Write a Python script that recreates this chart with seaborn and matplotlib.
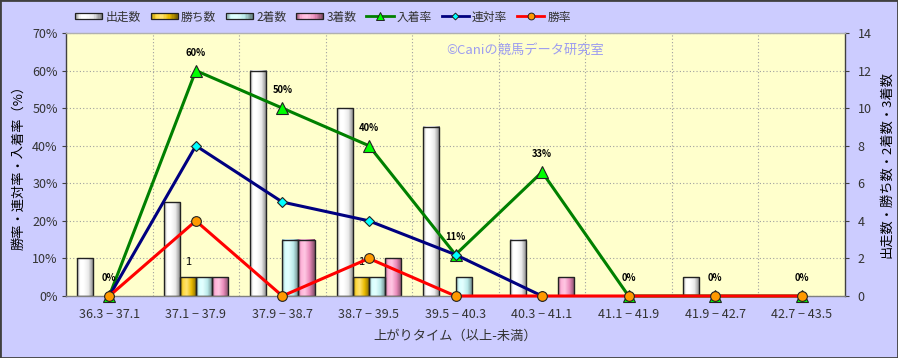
import numpy as np
import pandas as pd
import matplotlib
matplotlib.use("Agg")
import matplotlib.pyplot as plt
import seaborn as sns
from matplotlib.legend_handler import HandlerBase
from matplotlib.patches import Rectangle
from matplotlib.lines import Line2D
from matplotlib.colors import to_rgb

# ---------------- data ----------------
categories = ["36.3 − 37.1", "37.1 − 37.9", "37.9 − 38.7", "38.7 − 39.5", "39.5 − 40.3",
              "40.3 − 41.1", "41.1 − 41.9", "41.9 − 42.7", "42.7 − 43.5"]
runs = [2, 5, 12, 10, 9, 3, 0, 1, 0]          # 出走数
wins = [0, 1, 0, 1, 0, 0, 0, 0, 0]            # 勝ち数
seconds = [0, 1, 3, 1, 1, 0, 0, 0, 0]         # 2着数
thirds = [0, 1, 3, 2, 0, 1, 0, 0, 0]          # 3着数
place_rate = [0, 60, 50, 40, 11, 33, 0, 0, 0]                        # 入着率
quinella_rate = [0, 40, 25, 20, 11, 0, np.nan, np.nan, np.nan]       # 連対率
win_rate = [0, 20, 0, 10, 0, 0, 0, 0, 0]                             # 勝率
place_labels = ["0%", "60%", "50%", "40%", "11%", "33%", "0%", "0%", "0%"]
win_labels = ["", "1", "", "1", "", "", "", "", ""]

bar_names = ["出走数", "勝ち数", "2着数", "3着数"]
bar_colors = ["#FFFFFF", "#FFCC00", "#CCFFFF", "#FF99CC"]
line_names = ["入着率", "連対率", "勝率"]

plt.rcParams["font.family"] = ["Noto Sans CJK JP", "DejaVu Sans"]
plt.rcParams["axes.unicode_minus"] = False

FIG_BG = "#CCCCFF"
AX_BG = "#FFFFCC"
TXT = "#333333"


def grad_colors(base, n):
    b = np.array(to_rgb(base))
    left = b * 0.66
    light = b + (1 - b) * 0.45
    mid = b * 0.92
    right = b * 0.5
    t = np.linspace(0, 1, n)
    keys_t = [0.0, 0.18, 0.4, 0.68, 1.0]
    keys = [left, b + (1 - b) * 0.25, light, mid, right]
    cols = np.stack([np.interp(t, keys_t, [k[c] for k in keys]) for c in range(3)], axis=1)
    return np.clip(cols, 0, 1)


fig = plt.figure(figsize=(8.98, 3.58), dpi=100, facecolor=FIG_BG)
L, R, T, B = 66, 845, 33, 296
ax1 = fig.add_axes([L / 898, 1 - B / 358, (R - L) / 898, (B - T) / 358])
ax2 = ax1.twinx()
ax1.set_zorder(2)
ax2.set_zorder(1)
ax1.patch.set_visible(False)
ax2.patch.set_visible(True)
ax2.patch.set_facecolor(AX_BG)

# ---------------- bars ----------------
df = pd.DataFrame({
    "cat": categories * 4,
    "series": sum([[s] * len(categories) for s in bar_names], []),
    "count": runs + wins + seconds + thirds,
})
sns.barplot(data=df, x="cat", y="count", hue="series", order=categories, hue_order=bar_names,
            palette=bar_colors, width=0.744, saturation=1, edgecolor="#222222", linewidth=1.0,
            legend=False, errorbar=None, ax=ax2)

for cont, base in zip(ax2.containers, bar_colors):
    for p in cont.patches:
        h = p.get_height()
        if h <= 0:
            p.set_visible(False)
            continue
        x0, w = p.get_x(), p.get_width()
        img = grad_colors(base, 64)[None, :, :]
        ax2.imshow(img, extent=[x0, x0 + w, 0, h], aspect="auto", zorder=1.5,
                   interpolation="bilinear")
        p.set_facecolor("none")
        p.set_zorder(2)

ax2.bar_label(ax2.containers[1], labels=win_labels, padding=7, fontsize=8, color="black")

# grid
GRID = dict(color="#A0A0A0", linestyle=(0, (1, 2)), linewidth=0.8)
ax2.set_ylim(0, 14)
ax2.set_yticks(np.arange(0, 15, 2))
ax2.grid(axis="y", zorder=0, **GRID)
ax2.set_axisbelow(True)
for b in np.arange(0.5, len(categories) - 0.5, 1):
    ax2.axvline(b, zorder=0.5, **GRID)

# ---------------- lines ----------------
xs = np.arange(len(categories))
line_specs = [
    (place_rate, "#008000", "^", "#00FF00", 8),
    (quinella_rate, "#000080", "D", "#00FFFF", 5),
    (win_rate, "#FF0000", "o", "#FF9900", 7),
]
for k, (vals, col, mk, mfc, ms) in enumerate(line_specs):
    sns.lineplot(x=xs, y=vals, ax=ax1, color=col, linewidth=2.2, marker=mk, markersize=ms,
                 markerfacecolor=mfc, markeredgecolor="#222222", markeredgewidth=0.8,
                 legend=False, sort=False, zorder=3 + k, clip_on=False)

for i, (v, lbl) in enumerate(zip(place_rate, place_labels)):
    ax1.annotate(lbl, (i, v), xytext=(0, 13), textcoords="offset points", ha="center",
                 va="center", fontsize=6.8, fontweight="bold", color="black", zorder=10)

ax1.text((525 - L) / (R - L), (B - 50) / (B - T), "©Caniの競馬データ研究室",
         transform=ax1.transAxes, ha="center", va="center", fontsize=9.5, color="#9C9CF0")

# ---------------- axes ----------------
ax1.set_xlim(-0.5, len(categories) - 0.5)
ax1.set_ylim(0, 70)
ax1.set_yticks(np.arange(0, 71, 10))
ax1.set_yticklabels([f"{v}%" for v in range(0, 71, 10)])
ax1.set_xticks(xs)
ax1.set_xticklabels(categories)
ax1.tick_params(axis="x", length=0, pad=9, labelsize=9, labelcolor=TXT)
ax1.tick_params(axis="y", length=3, width=0.8, color="#404040", pad=3, labelsize=9, labelcolor=TXT)
ax2.tick_params(axis="y", length=3, width=0.8, color="#404040", pad=6, labelsize=9, labelcolor=TXT)

ax1.set_xlabel("上がりタイム（以上-未満）", fontsize=9.5, color=TXT, labelpad=6)
ax1.set_ylabel("勝率・連対率・入着率（%）", fontsize=9.5, color="black", labelpad=5)
ax2.set_ylabel("出走数・勝ち数・2着数・3着数", fontsize=9.5, color="black", labelpad=6)

for sp in ax2.spines.values():
    sp.set_visible(False)
ax1.spines["left"].set_color("#404040")
ax1.spines["right"].set_color("#404040")
ax1.spines["top"].set_color("#B0B0B0")
ax1.spines["bottom"].set_color("#808080")
for sp in ax1.spines.values():
    sp.set_linewidth(1)


# ---------------- legend ----------------
class GradHandler(HandlerBase):
    def __init__(self, base):
        super().__init__()
        self.base = base

    def create_artists(self, legend, orig_handle, xdescent, ydescent, width, height, fontsize, trans):
        n = 20
        h = height * 0.75
        y0 = -ydescent + (height - h) / 2
        cols = grad_colors(self.base, n)
        arts = [Rectangle((-xdescent + width * k / n, y0), width / n + 0.3, h, fc=cols[k], ec="none",
                          transform=trans) for k in range(n)]
        arts.append(Rectangle((-xdescent, y0), width, h, fc="none", ec="#222222", lw=0.9,
                              transform=trans))
        return arts


bar_handles = [Rectangle((0, 0), 1, 1) for _ in bar_names]
line_handles = [Line2D([], [], color=c, lw=2, marker=m, markersize=s * 0.7, markerfacecolor=f,
                       markeredgecolor="#222222", markeredgewidth=0.7)
                for (_, c, m, f, s) in line_specs]
handler_map = {h: GradHandler(c) for h, c in zip(bar_handles, bar_colors)}
fig.legend(bar_handles + line_handles, bar_names + line_names, loc="center",
           bbox_to_anchor=(323 / 898, 1 - 17 / 358), ncol=7, frameon=False, fontsize=8.5,
           handlelength=2.3, handletextpad=0.25, columnspacing=0.85, handler_map=handler_map,
           labelcolor=TXT)

fig.patches.append(Rectangle((0, 0), 1, 1, transform=fig.transFigure, fill=False,
                             edgecolor="#404040", linewidth=2))

fig.savefig("out.png", dpi=100, facecolor=FIG_BG)
